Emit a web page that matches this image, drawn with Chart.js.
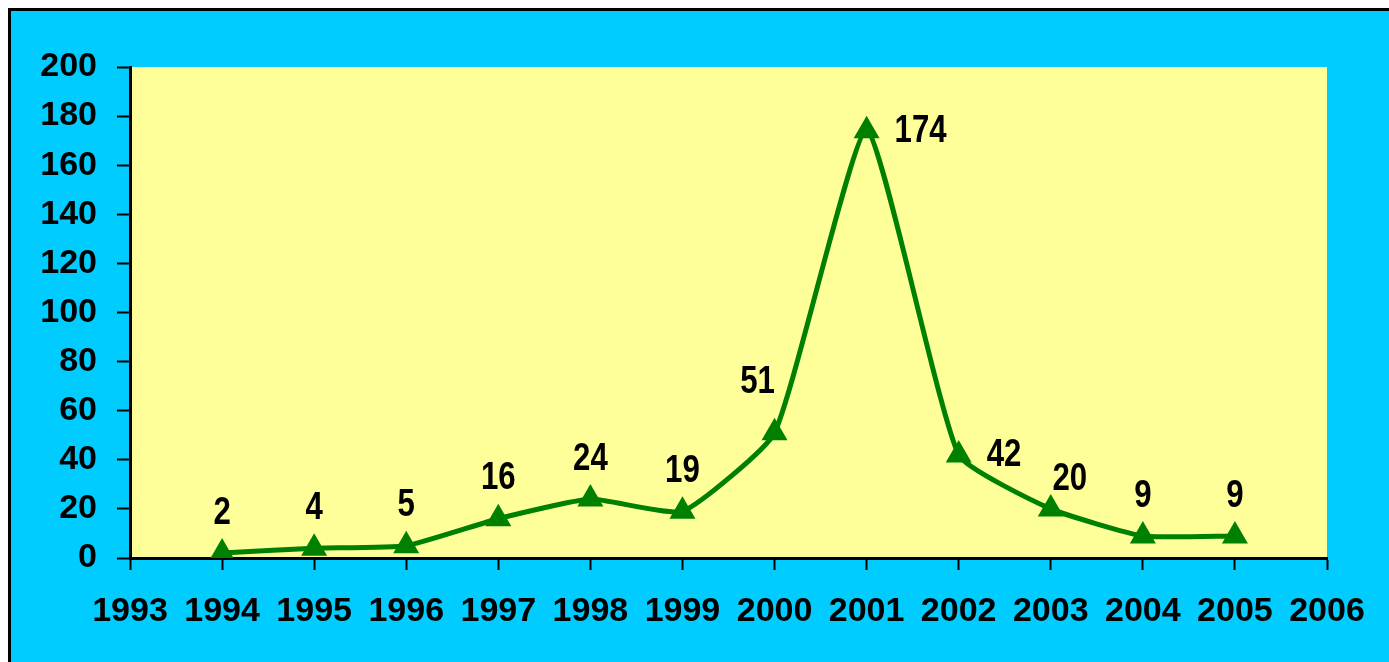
<!DOCTYPE html>
<html>
<head>
<meta charset="utf-8">
<script src="https://cdn.jsdelivr.net/npm/chart.js@4"></script>
<style>
  html, body { margin: 0; padding: 0; background: #ffffff; }
  #wrap { position: absolute; left: 0; top: 0; width: 1389px; height: 662px; }
</style>
</head>
<body>
<div id="wrap"><canvas id="chart" width="1389" height="662"></canvas></div>
<script>
// data
const years = [1994, 1995, 1996, 1997, 1998, 1999, 2000, 2001, 2002, 2003, 2004, 2005];
const counts = [2, 4, 5, 16, 24, 19, 51, 174, 42, 20, 9, 9];
const xRange = [1993, 2006];
const yTicks = [0, 20, 40, 60, 80, 100, 120, 140, 160, 180, 200];

// where each value label sits relative to its marker
const labelPlacement = ['top', 'top', 'top', 'top', 'top', 'top', 'topleft', 'right', 'right', 'topright', 'top', 'top'];

const CYAN = '#00CCFF';
const YELLOW = '#FFFF99';
const GREEN = '#008000';
const FONT = '"Liberation Sans", Arial, sans-serif';

const backdrop = {
    id: 'backdrop',
    beforeDraw(chart) {
        const { ctx, width, height, chartArea } = chart;
        ctx.save();
        ctx.fillStyle = '#ffffff';
        ctx.fillRect(0, 0, width, height);
        ctx.fillStyle = '#000000';
        ctx.fillRect(8, 8, width - 8, height - 8);
        ctx.fillStyle = CYAN;
        ctx.fillRect(11, 11, width - 11, height - 11);
        ctx.fillStyle = YELLOW;
        ctx.fillRect(chartArea.left, chartArea.top, chartArea.right - chartArea.left, chartArea.bottom - chartArea.top);
        ctx.restore();
    }
};

const valueLabels = {
    id: 'valueLabels',
    afterDatasetsDraw(chart) {
        const ctx = chart.ctx;
        const meta = chart.getDatasetMeta(0);
        ctx.save();
        ctx.fillStyle = '#000000';
        ctx.font = 'bold 39px ' + FONT;
        ctx.textBaseline = 'middle';
        meta.data.forEach((pt, i) => {
            const text = String(counts[i]);
            let x = pt.x, y = pt.y - 40, align = 'center';
            const pos = labelPlacement[i];
            if (pos === 'right') { x = pt.x + 28; y = pt.y; align = 'left'; }
            else if (pos === 'topleft') { x = pt.x - 17; y = pt.y - 51; }
            else if (pos === 'topright') { x = pt.x + 19; y = pt.y - 30; }
            ctx.save();
            ctx.translate(x, y);
            ctx.scale(0.8, 1);
            ctx.textAlign = align;
            ctx.fillText(text, 0, 0);
            ctx.restore();
        });
        ctx.restore();
    }
};

new Chart(document.getElementById('chart'), {
    type: 'line',
    data: {
        datasets: [{
            data: years.map((y, i) => ({ x: y, y: counts[i] })),
            borderColor: GREEN,
            backgroundColor: GREEN,
            borderWidth: 5,
            tension: 0.15,
            pointStyle: 'triangle',
            pointRadius: 15,
            pointHoverRadius: 15,
            pointBorderWidth: 0,
            pointBackgroundColor: GREEN
        }]
    },
    options: {
        responsive: false,
        animation: false,
        events: [],
        layout: { padding: { left: 11, top: 67, right: 62, bottom: 0 } },
        plugins: { legend: { display: false }, tooltip: { enabled: false } },
        scales: {
            x: {
                type: 'linear',
                min: xRange[0],
                max: xRange[1],
                afterBuildTicks(scale) {
                    const t = [];
                    for (let v = xRange[0]; v <= xRange[1]; v++) t.push({ value: v });
                    scale.ticks = t;
                },
                afterFit(scale) { scale.height = 104; },
                border: { display: true, color: '#000000', width: 3 },
                grid: { drawOnChartArea: false, drawTicks: true, tickLength: 12, tickWidth: 2, tickColor: '#000000' },
                ticks: {
                    color: '#000000',
                    font: { family: FONT, size: 34, weight: 'bold' },
                    padding: 21,
                    maxRotation: 0,
                    autoSkip: false,
                    callback: v => String(v)
                }
            },
            y: {
                min: 0,
                max: 200,
                afterBuildTicks(scale) { scale.ticks = yTicks.map(v => ({ value: v })); },
                afterFit(scale) { scale.width = 119; },
                border: { display: true, color: '#000000', width: 3 },
                grid: { drawOnChartArea: false, drawTicks: true, tickLength: 13, tickWidth: 2, tickColor: '#000000' },
                ticks: {
                    color: '#000000',
                    font: { family: FONT, size: 34, weight: 'bold' },
                    padding: 20
                }
            }
        }
    },
    plugins: [backdrop, valueLabels]
});
</script>
</body>
</html>
